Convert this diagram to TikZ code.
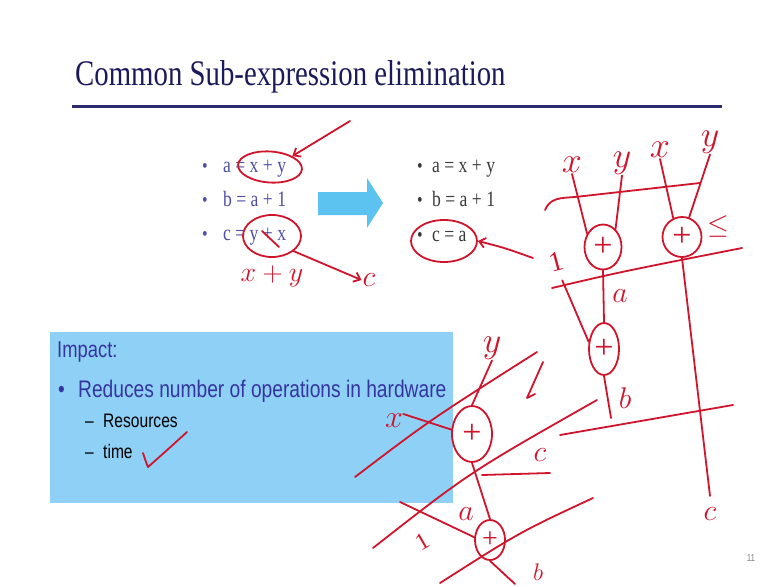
\RequirePackage{fix-cm}
\documentclass[tikz,border=0pt]{standalone}
\usepackage{fontspec}
\setmainfont{Liberation Serif}
\setsansfont{Liberation Sans}
\usetikzlibrary{arrows.meta,shapes.geometric,positioning}
\definecolor{titlenavy}{HTML}{1B1B5C}
\definecolor{rulenavy}{HTML}{2E2A70}
\definecolor{listblue}{HTML}{4E4EA6}
\definecolor{listgray}{HTML}{3A3A3A}
\definecolor{arrowblue}{HTML}{5CC3F0}
\definecolor{boxblue}{HTML}{8FD0F6}
\definecolor{boxtext}{HTML}{3535A0}
\definecolor{pen}{HTML}{D0142C}
\newcommand{\sqz}[1]{\scalebox{0.8}[1]{#1}}

\begin{document}
\begin{tikzpicture}[x=1pt,y=-1pt,
    hand/.style={draw=pen, line width=1.8pt, line cap=round, line join=round},
    barb/.style={hand, -{Straight Barb[length=6pt,width=10pt]}},
    opnode/.style={hand, ellipse, inner sep=0pt, text=pen, font=\fontsize{34}{34}\selectfont},
    lettr/.style={text=pen, inner sep=1pt, font=\fontsize{36}{36}\selectfont},
    stmt/.style={anchor=base west, inner sep=0pt, font=\fontsize{22}{24}\selectfont},
    bul/.style={anchor=base, inner sep=0pt, font=\fontsize{20}{24}\selectfont},
    boxline/.style={anchor=base west, inner sep=0pt, font=\sffamily\fontsize{24}{28}\selectfont}
]
\useasboundingbox[fill=white] (0,0) rectangle (767,586);

% title
\node[anchor=base west, inner sep=0pt, text=titlenavy, font=\fontsize{36}{40}\selectfont] (title) at (75,85) {\sqz{Common Sub-expression elimination}};
\draw[rulenavy, line width=3pt] (72,106) -- (722,106);

% original statements
\node[bul, text=listblue] (lb1) at (205,172) {\sqz{•}};
\node[bul, text=listblue] (lb2) at (205,206) {\sqz{•}};
\node[bul, text=listblue] (lb3) at (205,240) {\sqz{•}};
\node[stmt, text=listblue] (la) at (223,172) {\sqz{a = x + y}};
\node[stmt, text=listblue] (lbb) at (223,206) {\sqz{b = a + 1}};
\node[stmt, text=listblue] (lc) at (223,240) {\sqz{c = y + x}};

\fill[arrowblue] (318,192) -- (367,192) -- (367,178) -- (383,203) -- (367,228) -- (367,215) -- (318,215) -- cycle;

% after elimination
\node[bul, text=listgray] (rb1) at (420,172) {\sqz{•}};
\node[bul, text=listgray] (rb2) at (420,206) {\sqz{•}};
\node[bul, text=listgray] (rb3) at (420,241) {\sqz{•}};
\node[stmt, text=listgray] (ra) at (432,172) {\sqz{a = x + y}};
\node[stmt, text=listgray] (rbb) at (432,206) {\sqz{b = a + 1}};
\node[stmt, text=listgray] (rc) at (432,241) {\sqz{c = a}};

% impact box
\node[fill=boxblue, anchor=north west, inner sep=0pt, minimum width=403, minimum height=171] (impact) at (50,332) {};
\node[boxline, text=boxtext, font=\sffamily\fontsize{23}{28}\selectfont] (imp) at (57,357) {\sqz{Impact:}};
\node[boxline, text=boxtext] (blt) at (58,397) {\sqz{•}};
\node[boxline, text=boxtext] (red) at (78,397) {\sqz{Reduces number of operations in hardware}};
\node[boxline, font=\sffamily\fontsize{19.5}{24}\selectfont] (d1) at (85,427) {\sqz{–}};
\node[boxline, font=\sffamily\fontsize{19.5}{24}\selectfont] (res) at (103,427) {\sqz{Resources}};
\node[boxline, font=\sffamily\fontsize{19.5}{24}\selectfont] (d2) at (85,458) {\sqz{–}};
\node[boxline, font=\sffamily\fontsize{19.5}{24}\selectfont] (tim) at (103,458) {\sqz{time}};

\node[anchor=center, text=gray, font=\sffamily\fontsize{10}{10}\selectfont] (pgno) at (751,558) {\sqz{11}};

% pen marks on the statements
\node[hand, ellipse, minimum width=64, minimum height=31, rotate=-4] (sumxy) at (270,167) {};
\coordinate (tailxy) at (350,121);
\draw[hand, {Straight Barb[length=6pt,width=10pt]}-] (sumxy.30) -- (tailxy);
\node[hand, ellipse, minimum width=58, minimum height=42] (sumyx) at (272,236) {};
\draw[hand] (262,231) -- (279,247);
\node[lettr, font=\fontsize{28}{28}\selectfont] (xplusy) at (272,276) {$x+y$};
\node[lettr, font=\fontsize{30}{30}\selectfont] (cout) at (369,280) {$c$};
\draw[barb] (sumyx.-35) -- (cout.west);
\node[hand, ellipse, minimum width=66, minimum height=42] (cbox) at (444,241) {};
\coordinate (ctail) at (533,258);
\draw[barb] (ctail) .. controls (505,248) .. (cbox.east);
\draw[hand] (143,453) .. controls (146,462) .. (148,467) .. controls (165,452) .. (187,432);

% graph before sharing
\node[lettr] (xA) at (572,165) {$x$};
\node[lettr] (yA) at (622,163) {$y$};
\node[lettr] (xC) at (660,150) {$x$};
\node[lettr] (yC) at (710,142) {$y$};
\node[opnode, minimum width=37, minimum height=45] (addA) at (603,247) {+};
\node[opnode, minimum width=39, minimum height=40] (addC) at (682,237) {+};
\node[opnode, minimum width=30, minimum height=52] (addB) at (604,349) {+};
\node[lettr, font=\fontsize{28}{28}\selectfont] (leq) at (718,226) {$\leq$};
\node[lettr, rotate=15, font=\fontsize{28}{28}\selectfont] (oneA) at (556,262) {1};
\node[lettr, font=\fontsize{30}{30}\selectfont] (lblA) at (620,296) {$a$};
\node[lettr, font=\fontsize{30}{30}\selectfont] (lblB) at (625,398) {$b$};
\node[lettr, font=\fontsize{30}{30}\selectfont] (lblC) at (710,514) {$c$};
\coordinate (bEnd) at (611,418);
\coordinate (cEnd) at (710,496);
\draw[hand] (xA.south) -- (addA.140);
\draw[hand] (yA.south) -- (addA.55);
\draw[hand] (xC.south) -- (addC.115);
\draw[hand] (yC.south) -- (addC.70);
\draw[hand] (addA.south) -- (addB.north);
\draw[hand, shorten <=9pt] (oneA.south) -- (addB.155);
\draw[hand] (addB.south) -- (bEnd);
\draw[hand] (addC.south) -- (cEnd);
\draw[hand] (545,210) .. controls (550,198) and (560,198) .. (575,197) -- (700,183);
\draw[hand] (552,288) .. controls (620,272) .. (742,248);
\draw[hand] (560,435) -- (733,405);

% graph after sharing
\node[lettr] (yD) at (492,348) {$y$};
\node[lettr, font=\fontsize{32}{32}\selectfont, inner sep=0pt] (xD) at (394,421) {$x$};
\node[opnode, minimum width=40, minimum height=56] (addD) at (472,434) {+};
\node[opnode, minimum width=30, minimum height=40, font=\fontsize{28}{28}\selectfont] (addE) at (490,540) {+};
\node[lettr, font=\fontsize{30}{30}\selectfont] (lblD) at (540,455) {$c$};
\node[lettr, font=\fontsize{30}{30}\selectfont] (lblE) at (466,514) {$a$};
\node[lettr, rotate=30, font=\fontsize{24}{24}\selectfont] (oneE) at (422,542) {1};
\node[lettr, font=\fontsize{24}{24}\selectfont] (lblF) at (538,572) {$b$};
\coordinate (tapD) at (482,475);
\coordinate (cD) at (550,473);
\coordinate (inE) at (400,502);
\coordinate (bD) at (515,584);
\draw[hand] (xD.north east) -- (addD.168);
\draw[hand] (yD.south) -- (addD.north);
\draw[hand] (addD.south) -- (addE.north);
\draw[hand] (tapD) -- (cD);
\draw[hand] (inE) -- (addE.170);
\draw[hand] (addE.south) -- (bD);
\draw[hand] (543,362) -- (527,398) -- (535,394);
\draw[hand] (355,477) .. controls (430,420) .. (537,352);
\draw[hand] (373,548) .. controls (470,472) .. (597,400);
\draw[hand] (440,583) .. controls (520,532) .. (593,498);
\end{tikzpicture}
\end{document}
